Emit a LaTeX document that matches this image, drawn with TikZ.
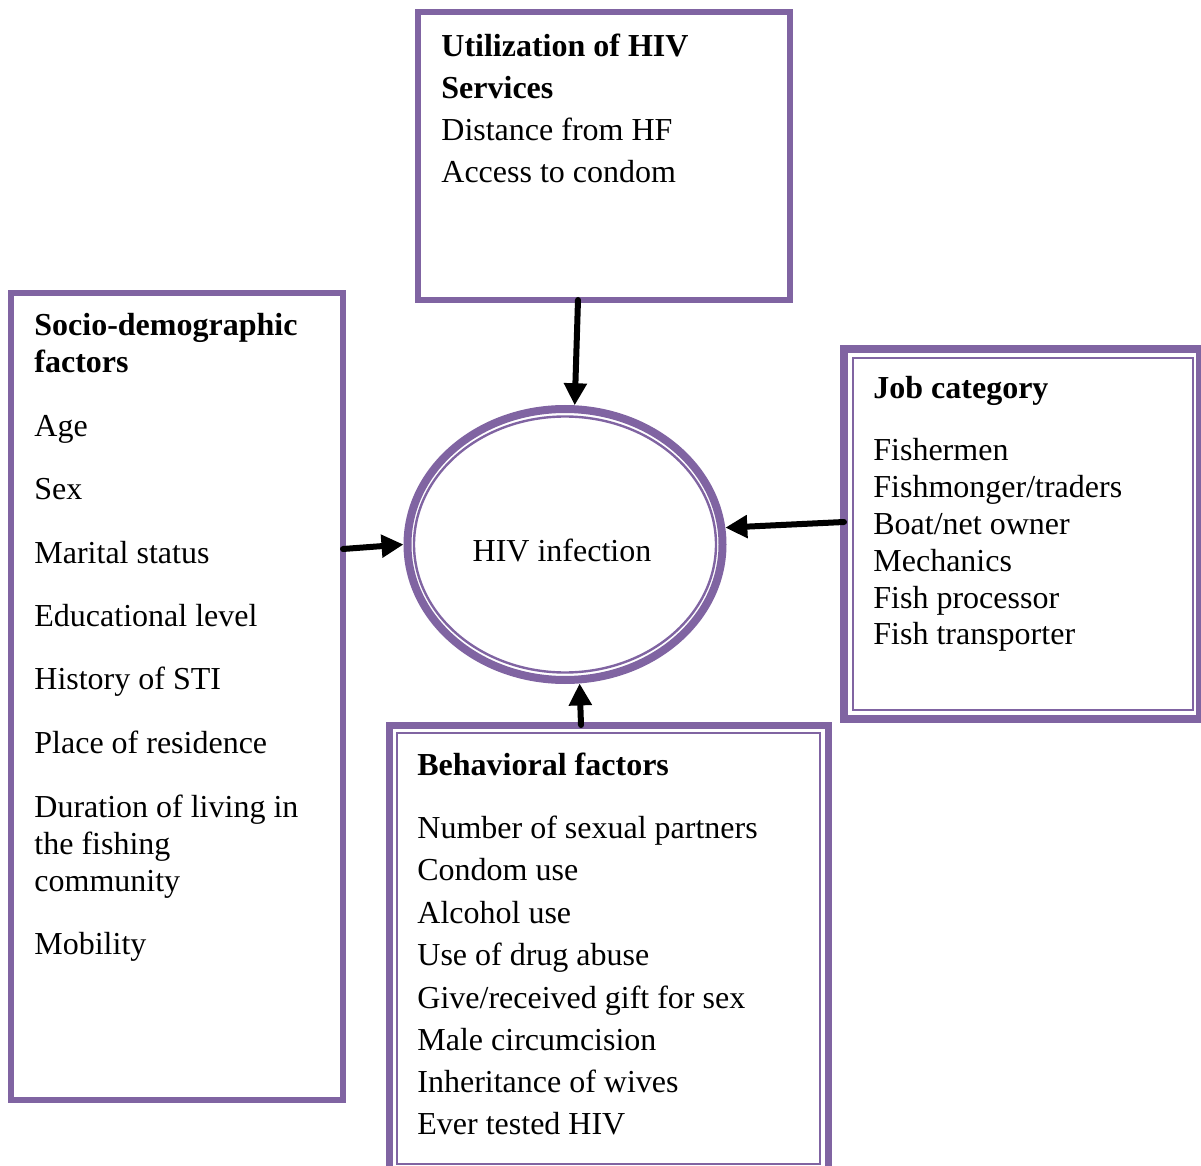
\documentclass[tikz,border=0pt]{standalone}
\usepackage{fontspec}
\setmainfont{Liberation Serif}
\usetikzlibrary{arrows.meta,shapes.geometric}
\definecolor{vio}{RGB}{128,100,162}
\begin{document}
\begin{tikzpicture}[x=0.5pt,y=-0.5pt,
  box/.style={draw=vio,line width=3pt,rectangle,outer sep=0pt,inner sep=0pt},
  thinline/.style={draw=vio,line width=1.2pt},
  txt/.style={anchor=base west,inner sep=0pt,font=\fontsize{16}{18}\selectfont},
  hd/.style={anchor=base west,inner sep=0pt,font=\fontsize{16}{18}\selectfont\bfseries},
  arr/.style={line width=3pt,line cap=round,-{Triangle[length=11pt,width=11pt]}}]
\useasboundingbox (0,0) rectangle (1201,1166);

% boxes
\node[box,minimum width=186pt,minimum height=144pt] (util) at (604,156) {};
\node[box,minimum width=166pt,minimum height=403.5pt] (socio) at (177,696.5) {};
\node[box,line width=4pt,minimum width=178pt,minimum height=185pt] (job) at (1022,534) {};
\draw[thinline] (853,358) rectangle (1193,710);
\node[box,line width=3.5pt,minimum width=219.5pt,minimum height=223.5pt] (beh) at (608.5,948.5) {};
\draw[thinline] (397,733) rectangle (820,1164);

% ellipse
\node[draw=vio,line width=4pt,ellipse,minimum width=157.5pt,minimum height=135.5pt,inner sep=0pt] (hiv) at (565,544.5) {};
\draw[vio,line width=1.2pt] (hiv.center) ellipse [x radius=151,y radius=128];
\node[anchor=base,inner sep=0pt,font=\fontsize{16}{18}\selectfont] (hivt) at (562,561) {HIV infection};

% arrows
\draw[arr] ([xshift=-13pt]util.south) -- (hiv.86);
\draw[arr] ([yshift=73.75pt]socio.east) -- (hiv.180);
\draw[arr] ([yshift=6pt]job.west) -- (hiv.6);
\draw[arr] ([xshift=-13.75pt]beh.north) -- (hiv.276);

% texts: top
\node[hd] (u1) at (441,57) {Utilization of HIV};
\node[hd] (u2) at (441,99) {Services};
\node[txt] (u3) at (441,141) {Distance from HF};
\node[txt] (u4) at (441,183) {Access to condom};

% left
\node[hd] (s1) at (34,336) {Socio-demographic};
\node[hd] (s2) at (34,373) {factors};
\foreach \y/\t [count=\i] in {437/{Age},500/{Sex},563/{Marital status},626/{Educational level},
  689/{History of STI},753/{Place of residence},817/{Duration of living in},854/{the fishing},
  891/{community},954/{Mobility}}
  \node[txt] (L\i) at (34,\y) {\t};

% right
\node[hd] (j0) at (873,399) {Job category};
\foreach \y/\t [count=\i] in {461/{Fishermen},498/{Fishmonger/traders},535/{Boat/net owner},
  572/{Mechanics},609/{Fish processor},645/{Fish transporter}}
  \node[txt] (J\i) at (873,\y) {\t};

% bottom
\node[hd] (b0) at (417,775) {Behavioral factors};
\foreach \y/\t [count=\i] in {838/{Number of sexual partners},880/{Condom use},923/{Alcohol use},
  965/{Use of drug abuse},1008/{Give/received gift for sex},1050/{Male circumcision},
  1092/{Inheritance of wives},1134/{Ever tested HIV}}
  \node[txt] (B\i) at (417,\y) {\t};
\end{tikzpicture}
\end{document}
